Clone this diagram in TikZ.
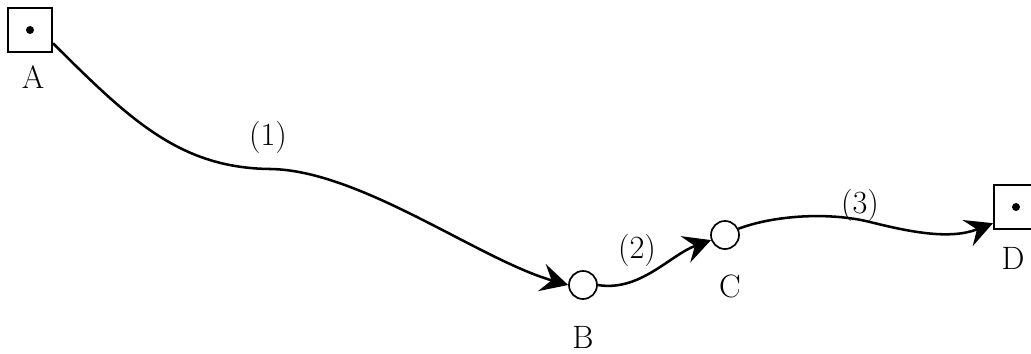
\documentclass[tikz,border=0pt]{standalone}
\usepackage{tikz}
\usetikzlibrary{arrows.meta,positioning}
\tikzset{
  terminal/.style={draw, line width=1.5pt, minimum size=1.1cm, inner sep=0pt},
  stop/.style={draw, circle, line width=1.2pt, minimum size=0.7cm, inner sep=0pt},
  tag/.style={font=\fontsize{23}{27}\selectfont, inner sep=0pt},
  route/.style={line width=1.8pt, -{Stealth[length=0.68cm, width=0.7cm, inset=0.25cm]}}
}
\begin{document}
\begin{tikzpicture}[x=0.025cm, y=-0.025cm]
    \useasboundingbox (0,0) rectangle (1031,354);
    \node[terminal] (A) at (30,30) {};
    \node[stop] (B) at (583,285) {};
    \node[stop] (C) at (725,235) {};
    \node[terminal] (D) at (1016,207) {};
    \fill (A) circle (0.1cm);
    \fill (D) circle (0.1cm);
    \node[tag] (labA) at (33,77) {A};
    \node[tag] (labB) at (583,337) {B};
    \node[tag] (labC) at (730,286) {C};
    \node[tag] (labD) at (1013,258) {D};
    \node[tag] (leg1) at (268,137) {(1)};
    \node[tag] (leg2) at (637,250) {(2)};
    \node[tag] (leg3) at (860,205) {(3)};
    \draw[route] (A.-30) .. controls (130,120) and (180,168) .. (270,169)
        .. controls (360,170) and (480,260) .. (B.west);
    \draw[route] (B.east) .. controls (640,292) and (670,255) .. (C.200);
    \draw[route] (C.25) .. controls (775,215) and (830,212) .. (870,222)
        .. controls (910,232) and (950,240) .. (D.215);
\end{tikzpicture}
\end{document}
